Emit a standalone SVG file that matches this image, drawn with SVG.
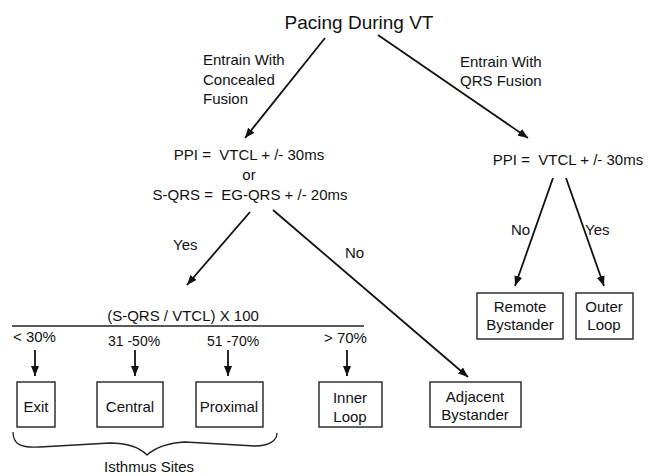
<svg xmlns="http://www.w3.org/2000/svg" width="648" height="476" viewBox="0 0 648 476">
<style>
text{font-family:"Liberation Sans",Arial,sans-serif;font-size:15px;fill:#111}
.c{text-anchor:middle}
.box{fill:#fff;stroke:#222;stroke-width:1.4}
.ln{stroke:#111;stroke-width:1.8;fill:none}
</style>
<defs>
<marker id="ah" viewBox="0 0 10 8" refX="10" refY="4" markerWidth="10" markerHeight="8" markerUnits="userSpaceOnUse" orient="auto">
<path d="M0,0 L10,4 L0,8 z" fill="#111"/>
</marker>
</defs>
<rect width="648" height="476" fill="#fff"/>
<g id="connectors">
<line class="ln" x1="325" y1="38" x2="245" y2="138" marker-end="url(#ah)"/>
<line class="ln" x1="378" y1="35" x2="528" y2="138" marker-end="url(#ah)"/>
<line class="ln" x1="250" y1="212" x2="187" y2="285" marker-end="url(#ah)"/>
<line class="ln" x1="273" y1="210" x2="468" y2="377" marker-end="url(#ah)"/>
<line class="ln" x1="553" y1="178" x2="515" y2="286" marker-end="url(#ah)"/>
<line class="ln" x1="566" y1="178" x2="604" y2="286" marker-end="url(#ah)"/>
<line class="ln" x1="35" y1="350" x2="35" y2="376" marker-end="url(#ah)"/>
<line class="ln" x1="135" y1="350" x2="135" y2="376" marker-end="url(#ah)"/>
<line class="ln" x1="228" y1="350" x2="228" y2="376" marker-end="url(#ah)"/>
<line class="ln" x1="347" y1="350" x2="347" y2="376" marker-end="url(#ah)"/>
<text x="203" y="65">Entrain With</text>
<text x="203" y="85">Concealed</text>
<text x="203" y="104">Fusion</text>
<text x="460" y="67">Entrain With</text>
<text x="460" y="86">QRS Fusion</text>
<text x="173" y="250">Yes</text>
<text x="345" y="258">No</text>
<text x="511" y="235">No</text>
<text x="585" y="235">Yes</text>
</g>
<g id="title"><text class="c" x="359" y="29" style="font-size:19px">Pacing During VT</text></g>
<g id="ppi-left">
<text class="c" x="249" y="160" xml:space="preserve">PPI =  VTCL + /- 30ms</text>
<text class="c" x="249" y="180">or</text>
<text class="c" x="250" y="200" xml:space="preserve">S-QRS =  EG-QRS + /- 20ms</text>
</g>
<g id="ppi-right"><text class="c" x="568" y="165" xml:space="preserve">PPI =  VTCL + /- 30ms</text></g>
<g id="ratio">
<text class="c" x="183" y="321">(S-QRS / VTCL) X 100</text>
<line x1="12" y1="326" x2="364" y2="326" stroke="#222" stroke-width="1.3"/>
<text x="13" y="342">&lt; 30%</text>
<text x="108" y="346" style="font-size:14px">31 -50%</text>
<text x="207" y="346" style="font-size:14px">51 -70%</text>
<text x="324" y="343">&gt; 70%</text>
</g>
<g id="exit"><rect class="box" x="17" y="382" width="38" height="45"/><text class="c" x="36" y="412">Exit</text></g>
<g id="central"><rect class="box" x="97" y="382" width="66" height="45"/><text class="c" x="130" y="412">Central</text></g>
<g id="proximal"><rect class="box" x="196" y="382" width="67" height="45"/><text class="c" x="229" y="412">Proximal</text></g>
<g id="inner-loop"><rect class="box" x="319" y="382" width="63" height="45"/><text class="c" x="350" y="403">Inner</text><text class="c" x="350" y="422">Loop</text></g>
<g id="adjacent-bystander"><rect class="box" x="430" y="382" width="91" height="45"/><text class="c" x="475" y="402">Adjacent</text><text class="c" x="475" y="420">Bystander</text></g>
<g id="remote-bystander"><rect class="box" x="477" y="293" width="86" height="46"/><text class="c" x="520" y="312">Remote</text><text class="c" x="520" y="330">Bystander</text></g>
<g id="outer-loop"><rect class="box" x="576" y="293" width="57" height="46"/><text class="c" x="604" y="312">Outer</text><text class="c" x="604" y="330">Loop</text></g>
<g id="isthmus-sites">
<path d="M13,432 C13,444 20,448 40,447 L110,443 C130,443 140,448 147,455 C155,448 165,443 185,442 L255,446 C270,446 277,440 277,433" fill="none" stroke="#222" stroke-width="1.3"/>
<text class="c" x="149" y="472">Isthmus Sites</text>
</g>
</svg>
